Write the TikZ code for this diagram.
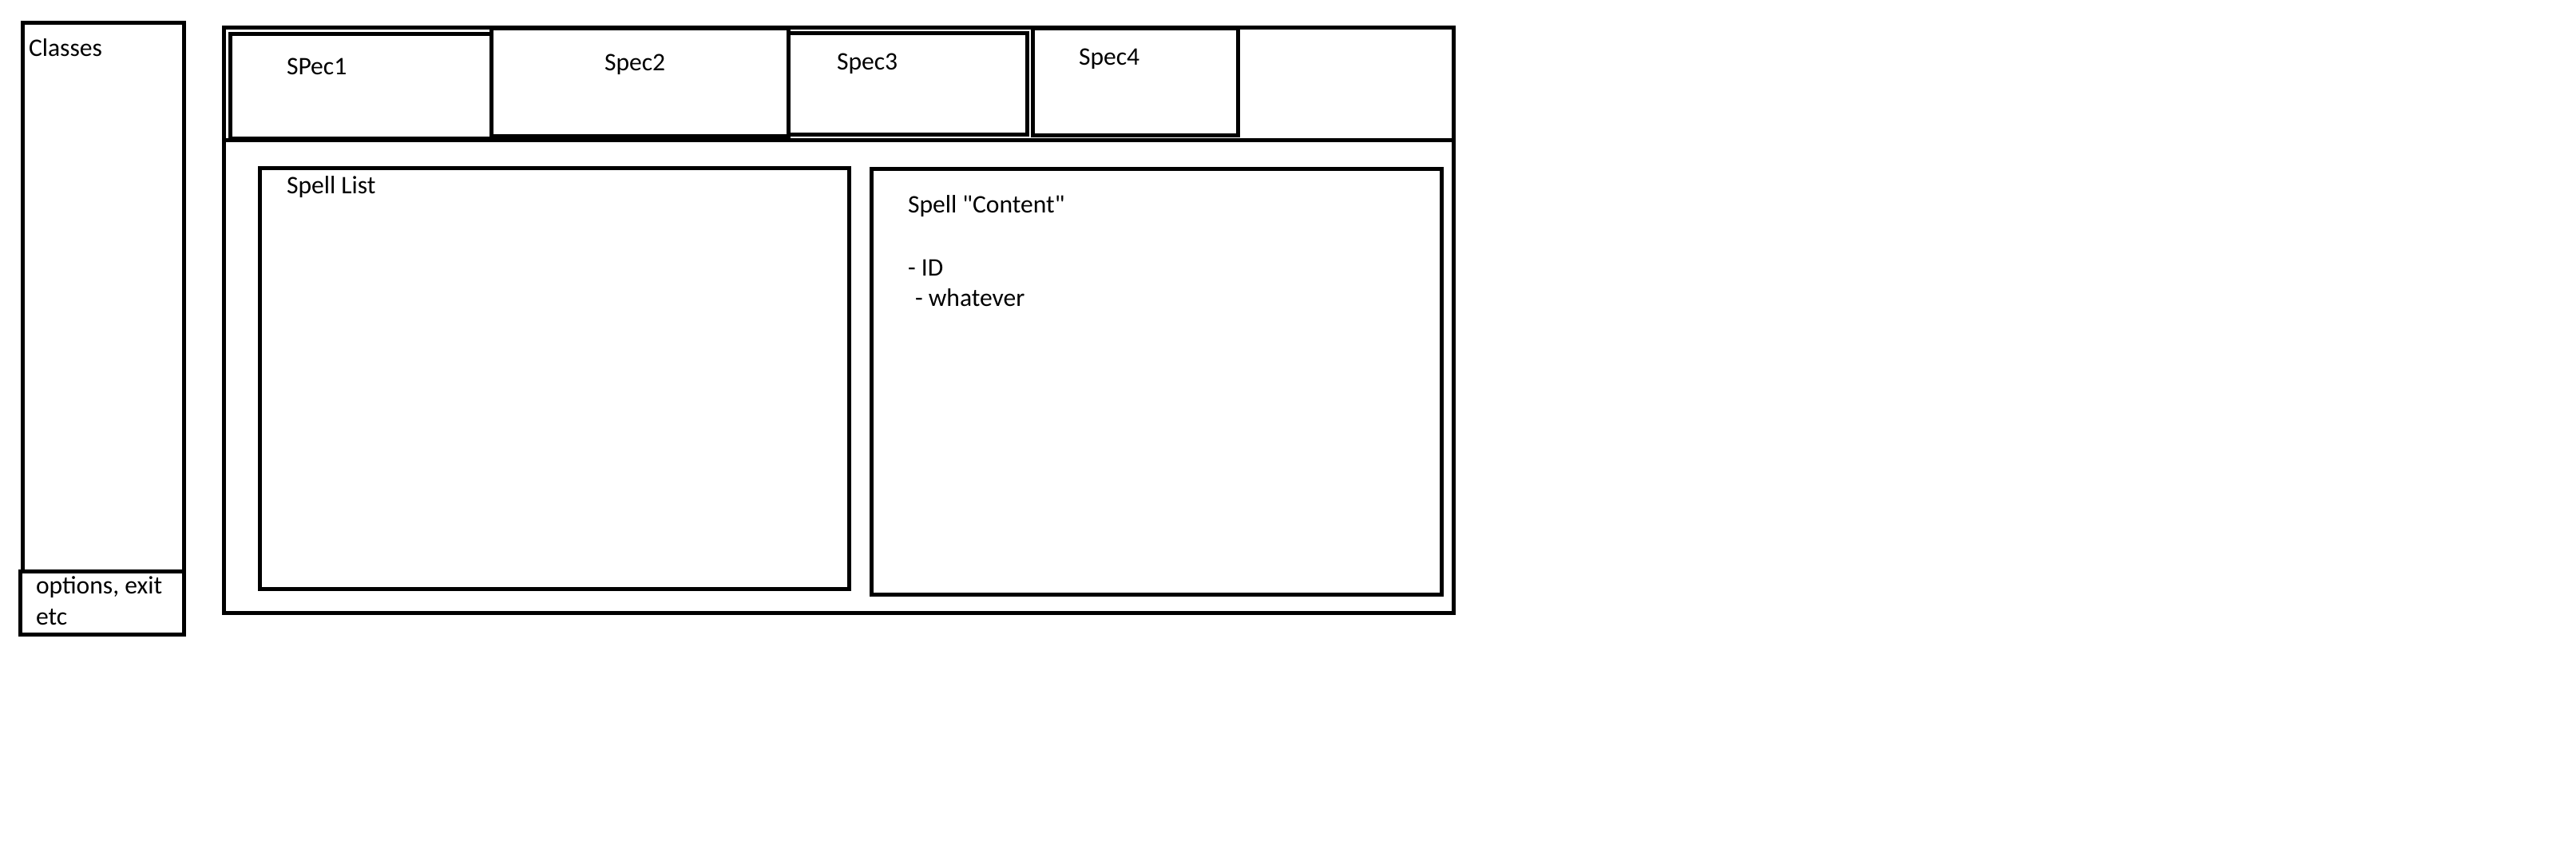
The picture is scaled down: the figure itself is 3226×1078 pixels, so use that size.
\documentclass[tikz,border=0pt]{standalone}
\usepackage{fontspec}
\setmainfont{Carlito}[Ligatures=TeXOff]
\tikzset{
  box/.style={draw=black, line width=5pt, rectangle, inner sep=0pt, outer sep=0pt},
  lbl/.style={anchor=base west, inner sep=0pt, outer sep=0pt, font=\fontsize{31.6}{39}\selectfont}
}
\newcommand{\boxnode}[5]{% name, x1, y1, x2, y2
  \pgfmathsetmacro{\bw}{#4-#2}\pgfmathsetmacro{\bh}{#5-#3}%
  \node[box, minimum width=\bw pt, minimum height=\bh pt] (#1) at ({(#2+#4)/2},{(#3+#5)/2}) {};}
\begin{document}
\begin{tikzpicture}[x=1pt,y=-1pt]
\useasboundingbox[fill=white] (0,0) rectangle (3226,1078);
% left column
\boxnode{classes}{28.5}{29}{230}{715}
\boxnode{options}{25.5}{715}{230}{794.5}
\node[lbl] (tclasses) at (36,71) {Classes};
\node[lbl] (topt1) at (45,743) {options, exit};
\node[lbl] (topt2) at (45,782) {etc};
% main window
\boxnode{outer}{280}{34.5}{1820.5}{767.5}
\coordinate (sepL) at (280,176);
\coordinate (sepR) at (1820.5,176);
\draw[line width=5pt] (sepL) -- (sepR);
% tabs
\boxnode{spec1}{288}{42.5}{615.5}{174}
\boxnode{spec2}{615.5}{36}{987}{171}
\boxnode{spec3}{987}{42}{1286}{168.5}
\boxnode{spec4}{1293}{36}{1550.5}{169.5}
\node[lbl] (tspec1) at (359,94) {SPec1};
\node[lbl] (tspec2) at (757,89) {Spec2};
\node[lbl] (tspec3) at (1048,88) {Spec3};
\node[lbl] (tspec4) at (1351,82) {Spec4};
% panels
\boxnode{spelllist}{325.5}{210.5}{1063.5}{737.5}
\boxnode{content}{1091}{212}{1805.5}{744.5}
\node[lbl] (tlist) at (359,243) {Spell List};
\node[lbl] (tcontent) at (1137,266) {Spell "Content"};
\node[lbl] (tid) at (1137,345) {- ID};
\node[lbl] (twhat) at (1146,383) {- whatever};
\end{tikzpicture}
\end{document}
